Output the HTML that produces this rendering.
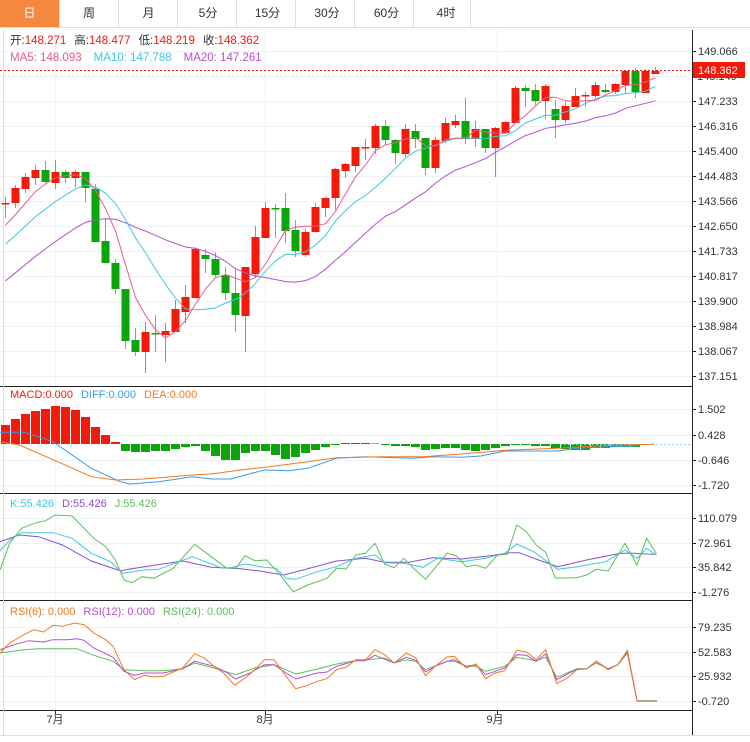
<!DOCTYPE html>
<html><head><meta charset="utf-8"><style>
body{margin:0;background:#fff;width:750px;height:742px;overflow:hidden;font-family:"Liberation Sans","Noto Sans CJK SC",sans-serif}
svg{position:absolute;left:0;top:0}
</style></head><body>
<svg id="s" width="750" height="742" xmlns="http://www.w3.org/2000/svg" font-family="Liberation Sans, Noto Sans CJK SC, sans-serif"></svg>
<script>
var s=document.getElementById('s');var h='';
function L(x1,y1,x2,y2,c,w,d){h+='<line x1="'+x1+'" y1="'+y1+'" x2="'+x2+'" y2="'+y2+'" stroke="'+c+'" stroke-width="'+(w||1)+'"'+(d?' stroke-dasharray="'+d+'"':'')+'/>';}
function R(x,y,w,hh,c){h+='<rect x="'+x+'" y="'+y+'" width="'+w+'" height="'+hh+'" fill="'+c+'"/>';}
function T(x,y,t,c,sz,a){h+='<text x="'+x+'" y="'+y+'" fill="'+c+'" font-size="'+(sz||11)+'"'+(a?' text-anchor="'+a+'"':'')+'>'+t+'</text>';}
function P(pts,c,w){h+='<polyline fill="none" stroke="'+c+'" stroke-width="'+(w||1)+'" points="'+pts.map(function(p){return p[0].toFixed(1)+','+p[1].toFixed(1)}).join(' ')+'"/>';}
var tabs=['日','周','月','5分','15分','30分','60分','4时'];
R(0,0,59,28,'#f5873f');
for(var i=0;i<8;i++){T(29.5+i*59.5,17,tabs[i],i==0?'#fff':'#333',12,'middle');if(i>0)L(i*59+0.5,0,i*59+0.5,27,'#ddd');}
L(470.5,0,470.5,27,'#ddd');L(0,27.5,750,27.5,'#ddd');
var gy=[51,76,101,126,151,176,201,226,251,276,301,326,351,376,409,435,460,485,518,543,567,592,627,652,676,701];
gy.forEach(function(y){L(0,y+.5,692,y+.5,'#eef2f6');});
[55,265,497].forEach(function(x){L(x+.5,30,x+.5,710,'#eef2f6');});
[386,493,600].forEach(function(y){L(0,y+.5,692,y+.5,'#222');});
L(0,710.5,692,710.5,'#222');L(692.5,30,692.5,735,'#222');L(0,735.5,750,735.5,'#ddd');L(3.5,30,3.5,735,'#ddd');
var al=[[51,'149.066'],[101,'147.233'],[126,'146.316'],[151,'145.400'],[176,'144.483'],[201,'143.566'],[226,'142.650'],[251,'141.733'],[276,'140.817'],[301,'139.900'],[326,'138.984'],[351,'138.067'],[376,'137.151'],[409,'1.502'],[435,'0.428'],[460,'-0.646'],[485,'-1.720'],[518,'110.079'],[543,'72.961'],[567,'35.842'],[592,'-1.276'],[627,'79.235'],[652,'52.583'],[676,'25.932'],[701,'-0.720']];
T(697,80,'148.149','#333',11);
al.forEach(function(a){L(692,a[0]+.5,696,a[0]+.5,'#222');T(698,a[0]+4,a[1],'#333',11);});
var C=[[203,203,197,218],[203,188,185,208],[189,177,173,193],[178,170,165,185],[170,182,161,183],[183,172,160,189],[172,178,170,183],[178,172,170,187],[172,188,172,202],[189,242,184,242],[241,263,218,263],[263,289,259,294],[289,341,289,349],[340,352,328,356],[352,332,322,373],[333,334,315,352],[335,331,323,362],[332,309,300,332],[312,297,285,323],[298,249,247,298],[255,259,249,273],[259,275,252,277],[275,293,267,300],[293,315,268,332],[316,267,267,352],[274,237,226,278],[238,208,202,238],[208,209,204,238],[208,231,193,243],[230,251,220,257],[255,232,229,257],[232,207,203,233],[208,198,197,217],[198,169,168,210],[171,164,163,178],[166,147,147,172],[147,147,139,160],[148,126,124,154],[126,140,120,145],[140,153,139,164],[154,129,124,157],[131,139,124,148],[138,168,138,175],[168,140,137,173],[141,123,118,143],[125,121,115,128],[121,139,98,144],[139,129,121,147],[129,148,129,153],[148,128,127,177],[133,122,121,134],[123,88,86,123],[88,91,85,107],[90,101,84,105],[101,86,84,119],[109,120,100,138],[120,106,102,123],[107,96,88,107],[95,95,92,107],[96,85,82,98],[90,92,84,93],[92,84,83,94],[85,71,70,94],[71,92,68,98],[93,71,69,93],[74,71,67,74]];
function X(i){return 5+10*i;}
C.forEach(function(c,i){var col=(c[1]>c[0])?'#0aa50a':'#f21b0b';if(c[1]==c[0]&&(i==27||i==15||i==52||i==60))col='#0aa50a';
 L(X(i)+.5,c[2],X(i)+.5,c[3],col=='#f21b0b'?'#f46a60':'#5cc45c');var t=Math.min(c[0],c[1]),b=Math.max(c[0],c[1]);R(X(i)-3.5,t,8,Math.max(b-t,1.5),col);});
var cl=[];for(var k=19;k>=1;k--)cl.push(220+(k-1)*130/18);C.forEach(function(c){cl.push(c[1]);});
function ma(n){var r=[];for(var i=0;i<C.length;i++){var j=i+19,sm=0;for(var q=0;q<n;q++)sm+=cl[j-q];r.push([X(i)+.5,sm/n]);}return r;}
P(ma(20),'#b44fce');P(ma(10),'#3cc8e0');P(ma(5),'#ec5a8a');
L(0,70.5,692,70.5,'#f21b0b',1,'2,2');R(693,62,52,16,'#f21b0b');T(698,74,'148.362','#fff',11);
h+='<text x="10" y="44" font-size="11.5" fill="#333">开:<tspan fill="#f21b0b">148.271</tspan><tspan dx="8">高:</tspan><tspan fill="#f21b0b">148.477</tspan><tspan dx="8">低:</tspan><tspan fill="#f21b0b">148.219</tspan><tspan dx="8">收:</tspan><tspan fill="#f21b0b">148.362</tspan></text>';
h+='<text x="10" y="61" font-size="11.5"><tspan fill="#ec5a8a">MA5: 148.093</tspan><tspan fill="#3cc8e0" dx="12">MA10: 147.788</tspan><tspan fill="#b44fce" dx="12">MA20: 147.261</tspan></text>';
var hv=[-19,-25,-30,-33,-35,-38,-37,-34,-27,-17,-9,-2,7,8,8,7,7,5,3,2,7,12,16,16,9,7,7,11,15,13,9,6,3,.5,-1,-1,-1,-.5,1,2,2,3,6,5,4,4,6,7,6,4,2,.5,.5,2,2,4,5,6,6,4,4,3,3,3,1];
hv.forEach(function(v,i){if(v<0)R(X(i)-4,444+v,9,-v,'#f21b0b');else R(X(i)-4,444,9,Math.max(v,1),'#0aa50a');});
L(560,444.5,692,444.5,'#8fd3f0',1,'2,2');
function cv(a,y0){return a.map(function(p){return [p[0]/2.08,y0+p[1]/3];});}
P(cv([[0,157],[50,157],[110,185],[190,265],[250,305],[270,312],[330,305],[400,290],[440,297],[480,297],[510,285],[550,270],[600,272],[640,265],[700,235],[760,230],[860,235],[900,230],[960,232],[1000,228],[1050,213],[1100,213],[1160,213],[1200,205],[1270,200],[1330,197]],380),'#3b9be8');
P(cv([[0,185],[40,195],[120,245],[190,290],[240,300],[300,297],[400,285],[440,282],[500,270],[560,260],[640,245],[700,233],[800,230],[880,230],[960,222],[1060,210],[1160,205],[1250,197],[1360,193]],380),'#f07a20');
h+='<text x="10" y="398" font-size="11"><tspan fill="#f21b0b">MACD:0.000</tspan><tspan fill="#3b9be8" dx="8">DIFF:0.000</tspan><tspan fill="#f07a20" dx="8">DEA:0.000</tspan></text>';
P(cv([[0,155],[40,135],[80,140],[130,165],[190,213],[250,242],[300,230],[380,213],[440,232],[500,236],[540,243],[590,255],[630,240],[700,213],[760,205],[800,217],[850,217],[900,203],[960,207],[1020,197],[1060,188],[1080,188],[1120,210],[1160,230],[1220,210],[1290,190],[1320,190],[1345,192],[1365,193]],490),'#8a4fd0');
P(cv([[0,183],[20,150],[45,128],[110,128],[150,145],[190,190],[230,215],[255,250],[300,240],[330,238],[400,200],[460,233],[480,233],[510,222],[550,232],[575,235],[595,265],[615,268],[660,245],[700,230],[740,205],[760,200],[780,195],[800,218],[840,220],[880,232],[910,205],[960,215],[1010,205],[1050,190],[1075,162],[1110,185],[1160,238],[1200,230],[1260,215],[1300,180],[1325,205],[1345,175],[1365,195]],490),'#3cc8e0');
P(cv([[0,240],[20,160],[45,115],[75,98],[95,92],[115,75],[150,78],[195,145],[220,170],[240,210],[258,270],[275,278],[295,260],[320,265],[360,235],[405,163],[430,190],[470,233],[490,235],[510,197],[530,212],[555,210],[580,250],[610,305],[640,285],[680,265],[700,235],[720,237],[740,195],[760,190],[780,160],[800,222],[820,233],[840,205],[860,235],[885,268],[930,190],[950,198],[970,230],[990,225],[1010,235],[1035,195],[1055,193],[1075,105],[1095,125],[1115,165],[1135,187],[1155,265],[1200,263],[1220,255],[1240,238],[1265,243],[1300,160],[1325,225],[1345,145],[1365,190]],490),'#5cbf5c');
h+='<text x="10" y="507" font-size="11"><tspan fill="#3cc8e0">K:55.426</tspan><tspan fill="#8a4fd0" dx="8">D:55.426</tspan><tspan fill="#5cbf5c" dx="8">J:55.426</tspan></text>';
P(cv([[0,165],[50,155],[80,152],[160,152],[195,172],[235,190],[258,215],[300,218],[340,218],[380,212],[405,195],[445,210],[490,230],[530,210],[570,200],[615,228],[660,213],[700,198],[740,188],[800,180],[820,195],[845,185],[865,190],[885,215],[930,190],[945,190],[970,205],[990,205],[1010,220],[1050,205],[1075,178],[1115,188],[1135,178],[1158,238],[1200,212],[1220,212],[1240,195],[1265,212],[1285,200],[1305,165],[1325,308],[1365,308]],598),'#5cbf5c');
P(cv([[0,155],[30,140],[60,128],[90,132],[110,125],[140,125],[160,122],[175,127],[195,150],[235,178],[258,220],[280,232],[300,225],[340,225],[380,212],[405,190],[445,205],[470,222],[490,243],[520,225],[550,200],[570,200],[595,225],[615,243],[660,225],[680,222],[700,205],[740,188],[760,188],[780,172],[820,195],[845,178],[865,187],[885,222],[905,205],[930,190],[945,185],[970,205],[990,200],[1010,230],[1050,210],[1075,170],[1095,172],[1115,190],[1135,168],[1158,245],[1200,213],[1220,213],[1240,190],[1265,213],[1285,200],[1305,162],[1325,308],[1365,308]],598),'#b44fce');
P(cv([[0,165],[20,135],[50,110],[70,95],[90,102],[110,82],[130,85],[155,75],[175,80],[195,105],[220,125],[235,145],[258,215],[280,245],[300,232],[320,237],[340,235],[380,210],[405,167],[425,180],[445,205],[465,225],[488,262],[510,240],[530,215],[550,185],[570,185],[595,235],[615,272],[640,262],[660,250],[680,242],[700,215],[720,208],[740,185],[760,185],[780,155],[800,170],[820,195],[845,165],[865,180],[885,233],[905,205],[930,177],[945,175],[970,210],[990,198],[1010,242],[1030,225],[1050,218],[1075,157],[1095,162],[1115,185],[1135,155],[1158,257],[1180,240],[1200,215],[1220,213],[1240,190],[1265,215],[1285,200],[1305,157],[1325,308]],598),'#f07a20');
R(637,700,20,2,'#a8a890');
h+='<text x="10" y="615" font-size="11"><tspan fill="#f07a20">RSI(6): 0.000</tspan><tspan fill="#b44fce" dx="8">RSI(12): 0.000</tspan><tspan fill="#5cbf5c" dx="8">RSI(24): 0.000</tspan></text>';
T(55,723,'7月','#333',11,'middle');T(265,723,'8月','#333',11,'middle');T(495,723,'9月','#333',11,'middle');
[55,265,497].forEach(function(x){L(x+.5,710,x+.5,714,'#222');});
s.innerHTML=h;
</script>
</body></html>
